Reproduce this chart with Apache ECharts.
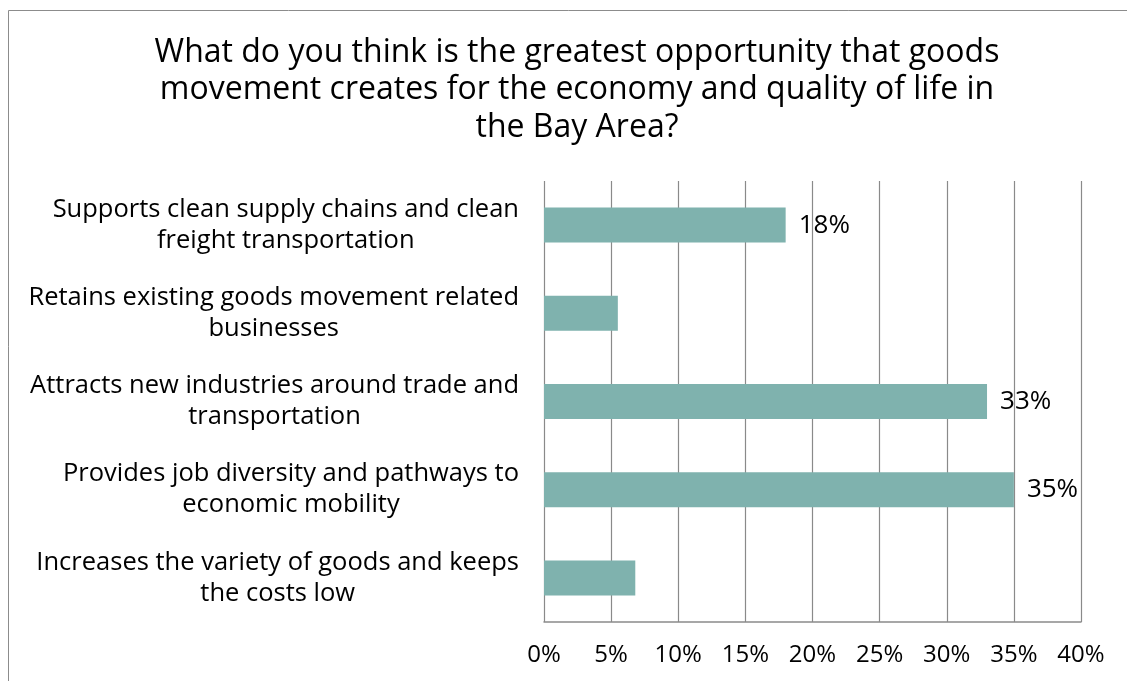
<!DOCTYPE html>
<html>
<head>
<meta charset="utf-8">
<title>Goods movement opportunities</title>
<script src="https://cdn.jsdelivr.net/npm/echarts@6/dist/echarts.min.js"></script>
<style>
  html, body { margin: 0; padding: 0; background: #fff; }
  #chart { width: 1127px; height: 681px; }
</style>
</head>
<body>
<div id="chart"></div>
<script>
// Survey answers, listed top to bottom
const categories = [
  "Supports clean supply chains and clean\nfreight transportation",
  "Retains existing goods movement related\nbusinesses",
  "Attracts new industries around trade and\ntransportation",
  "Provides job diversity and pathways to\neconomic mobility",
  "Increases the variety of goods and keeps\nthe costs low"
];
// Share of respondents (%)
const shares = [18, 5.5, 33, 35, 6.8];
// Only these answers carry a printed value
const labelled = [true, false, true, true, false];
const xTicks = [0, 5, 10, 15, 20, 25, 30, 35, 40];

const titleText = "What do you think is the greatest opportunity that goods\nmovement creates for the economy and quality of life in\nthe Bay Area?";

const FONT = "'Open Sans', Lato, sans-serif";
const chart = echarts.init(document.getElementById('chart'), null, { renderer: 'canvas' });

chart.setOption({
  backgroundColor: '#ffffff',
  animation: false,
  title: {
    text: titleText,
    left: 572,
    top: 29,
    textAlign: 'center',
    textStyle: {
      fontFamily: FONT,
      fontSize: 32,
      fontWeight: 'normal',
      color: '#000',
      lineHeight: 37.5,
      align: 'center'
    }
  },
  graphic: [{
    type: 'rect',
    silent: true,
    shape: { x: 8.5, y: 10.5, width: 1300, height: 900 },
    style: { fill: 'none', stroke: '#8c8c8c', lineWidth: 1 }
  }],
  grid: { left: 544, right: 46, top: 181, bottom: 59, containLabel: false },
  xAxis: {
    type: 'value',
    min: xTicks[0],
    max: xTicks[xTicks.length - 1],
    interval: xTicks[1] - xTicks[0],
    axisLine: { show: true, lineStyle: { color: '#8a8a8a', width: 1.5 } },
    axisTick: { show: false },
    splitLine: { show: true, lineStyle: { color: '#8a8a8a', width: 1.2 } },
    axisLabel: {
      formatter: v => v + '%',
      fontFamily: FONT,
      fontSize: 24,
      color: '#000',
      margin: 21
    }
  },
  yAxis: {
    type: 'category',
    inverse: true,
    data: categories,
    axisLine: { show: false },
    axisTick: { show: false },
    axisLabel: {
      margin: 25,
      formatter: v => '{c|' + v.split('\n').join('}\n{c|') + '}',
      rich: {
        c: {
          fontFamily: FONT,
          fontSize: 25.5,
          color: '#000',
          lineHeight: 31,
          align: 'center'
        }
      }
    }
  },
  series: [{
    type: 'bar',
    data: shares,
    barWidth: 35,
    itemStyle: { color: '#7fb2ae' },
    label: {
      show: true,
      position: 'right',
      distance: 13,
      fontFamily: FONT,
      fontSize: 26,
      color: '#000',
      formatter: p => labelled[p.dataIndex] ? Math.round(p.value) + '%' : ''
    }
  }]
});
</script>
</body>
</html>
